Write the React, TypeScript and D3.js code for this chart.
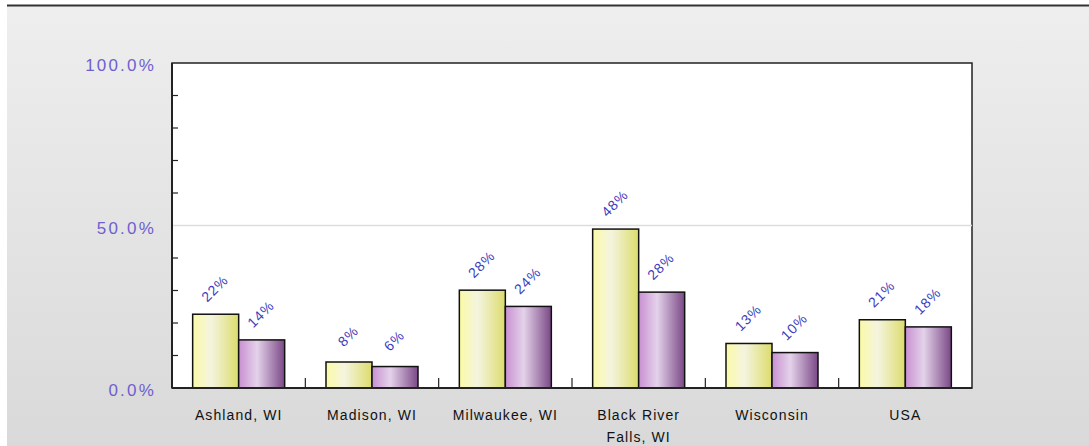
import React from "react";
import * as d3 from "d3";

const categories = ["Ashland, WI", "Madison, WI", "Milwaukee, WI", "Black River Falls, WI", "Wisconsin", "USA"];
const categoryLines = [["Ashland, WI"], ["Madison, WI"], ["Milwaukee, WI"], ["Black River", "Falls, WI"], ["Wisconsin"], ["USA"]];
const seriesA = [22.7, 8.0, 30.1, 48.9, 13.7, 21.0];
const seriesB = [14.8, 6.6, 25.1, 29.5, 10.9, 18.8];
const labelsA = ["22%", "8%", "28%", "48%", "13%", "21%"];
const labelsB = ["14%", "6%", "24%", "28%", "10%", "18%"];
const yTickLabels = [0, 50, 100];
const yMinorTicks = [10, 20, 30, 40, 60, 70, 80, 90];

const W = 1089, H = 446;
const M = { left: 172, right: 972, top: 63, bottom: 388 };

export default function App() {
  const x = d3.scaleBand<string>().domain(categories).range([M.left, M.right]).paddingInner(0).paddingOuter(0);
  const y = d3.scaleLinear().domain([0, 100]).range([M.bottom, M.top]);
  const bw = 46;
  const fmt = d3.format(".1f");
  return (
    <svg width={W} height={H} style={{ position: "absolute", left: 0, top: 0, fontFamily: "Liberation Sans, Arial, sans-serif" }}>
      <defs>
        <linearGradient id="bg" x1="0" y1="0" x2="0" y2="1">
          <stop offset="0" stopColor="#eeeeee" />
          <stop offset="1" stopColor="#d9d9d9" />
        </linearGradient>
        <linearGradient id="gy" x1="0" y1="0" x2="1" y2="0">
          <stop offset="0" stopColor="#fafaa6" />
          <stop offset="0.4" stopColor="#f4f4e0" />
          <stop offset="1" stopColor="#dcdc6c" />
        </linearGradient>
        <linearGradient id="gp" x1="0" y1="0" x2="1" y2="0">
          <stop offset="0" stopColor="#c890d2" />
          <stop offset="0.4" stopColor="#e4d2ea" />
          <stop offset="1" stopColor="#7a4886" />
        </linearGradient>
      </defs>
      <rect x={0} y={0} width={W} height={H} fill="#ffffff" />
      <rect x={7} y={6} width={W - 7} height={H - 6} fill="url(#bg)" />
      <line x1={7} x2={W} y1={5.5} y2={5.5} stroke="#333" strokeWidth={2} />
      <rect x={M.left} y={M.top} width={M.right - M.left} height={M.bottom - M.top} fill="#fff" stroke="#222" strokeWidth={1.5} />
      <line x1={M.left} x2={M.right} y1={y(50)} y2={y(50)} stroke="#dddddd" strokeWidth={1.5} />
      {yMinorTicks.map((t) => (
        <line key={t} x1={M.left} x2={M.left + 6} y1={y(t)} y2={y(t)} stroke="#222" strokeWidth={1.2} />
      ))}
      {categories.slice(1).map((c) => (
        <line key={c} x1={x(c)!} x2={x(c)!} y1={M.bottom} y2={M.bottom - 10} stroke="#222" strokeWidth={1.2} />
      ))}
      {categories.map((c, i) => {
        const cx = x(c)! + x.bandwidth() / 2;
        return (
          <g key={c}>
            <rect x={cx - bw} y={y(seriesA[i])} width={bw} height={y(0) - y(seriesA[i])} fill="url(#gy)" stroke="#111" strokeWidth={1.5} />
            <rect x={cx} y={y(seriesB[i])} width={bw} height={y(0) - y(seriesB[i])} fill="url(#gp)" stroke="#111" strokeWidth={1.5} />
            <text transform={`translate(${cx - bw / 2},${y(seriesA[i]) - 25}) rotate(-45)`} textAnchor="middle" dominantBaseline="middle" fontSize={14} letterSpacing={1} fill="#3c3cbc">{labelsA[i]}</text>
            <text transform={`translate(${cx + bw / 2},${y(seriesB[i]) - 25}) rotate(-45)`} textAnchor="middle" dominantBaseline="middle" fontSize={14} letterSpacing={1} fill="#3c3cbc">{labelsB[i]}</text>
            {categoryLines[i].map((ln, j) => (
              <text key={j} x={cx} y={420 + j * 22} textAnchor="middle" fontSize={14} letterSpacing={1.1} fill="#111">{ln}</text>
            ))}
          </g>
        );
      })}
      <line x1={M.left} x2={M.right} y1={M.bottom} y2={M.bottom} stroke="#222" strokeWidth={2} />
      <line x1={M.left} x2={M.left} y1={M.top} y2={M.bottom} stroke="#222" strokeWidth={2} />
      {yTickLabels.map((t) => (
        <text key={t} x={156} y={y(t) + 8} textAnchor="end" fontSize={17} letterSpacing={2.2} fill="#6e5fd0">{fmt(t)}%</text>
      ))}
    </svg>
  );
}
